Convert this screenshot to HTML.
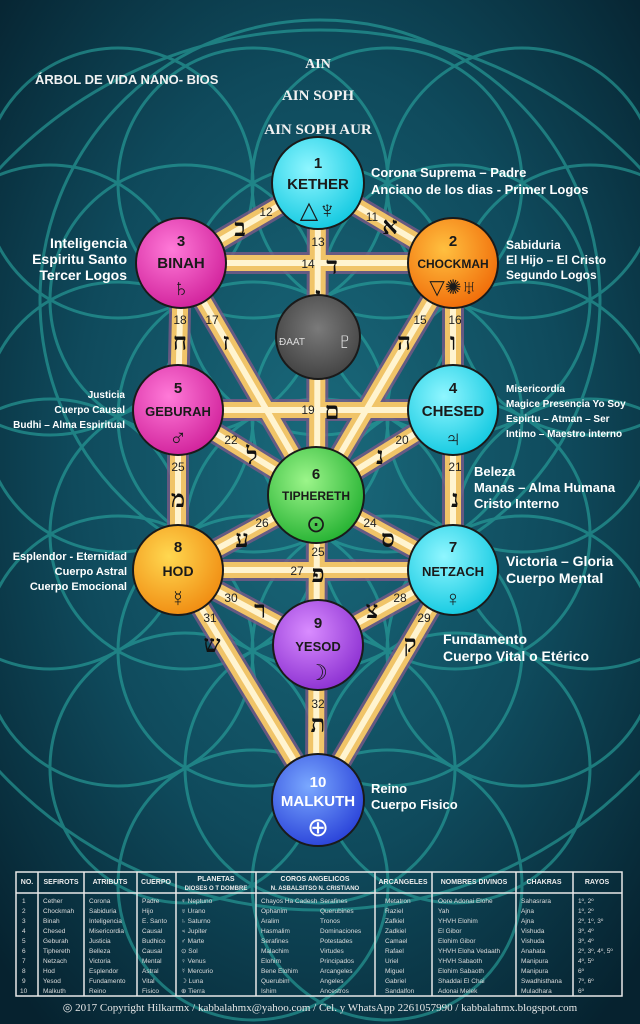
<!DOCTYPE html>
<html><head><meta charset="utf-8">
<style>
html,body{margin:0;padding:0;background:#072a38;}
svg{display:block}
text{font-family:"Liberation Sans",sans-serif;}
text.serif{font-family:"Liberation Serif",serif;}
</style></head>
<body>
<svg width="640" height="1024" viewBox="0 0 640 1024" xmlns="http://www.w3.org/2000/svg">
<defs>
<radialGradient id="bg" cx="50%" cy="45%" r="70%">
<stop offset="0" stop-color="#1a6a7c"/><stop offset="0.55" stop-color="#0f4a5c"/><stop offset="1" stop-color="#06222f"/>
</radialGradient>
<radialGradient id="gK" cx="40%" cy="35%" r="70%"><stop offset="0" stop-color="#8ff6ff"/><stop offset="1" stop-color="#10c8e0"/></radialGradient>
<radialGradient id="gB" cx="40%" cy="35%" r="70%"><stop offset="0" stop-color="#ff7ad8"/><stop offset="1" stop-color="#d0209a"/></radialGradient>
<radialGradient id="gC" cx="40%" cy="35%" r="70%"><stop offset="0" stop-color="#ffc040"/><stop offset="1" stop-color="#f06a08"/></radialGradient>
<radialGradient id="gT" cx="40%" cy="35%" r="70%"><stop offset="0" stop-color="#9cf58a"/><stop offset="1" stop-color="#22b030"/></radialGradient>
<radialGradient id="gH" cx="40%" cy="35%" r="70%"><stop offset="0" stop-color="#ffd850"/><stop offset="1" stop-color="#f08a10"/></radialGradient>
<radialGradient id="gY" cx="40%" cy="35%" r="70%"><stop offset="0" stop-color="#d98cff"/><stop offset="1" stop-color="#8a2ed0"/></radialGradient>
<radialGradient id="gM" cx="40%" cy="35%" r="70%"><stop offset="0" stop-color="#7aa8ff"/><stop offset="1" stop-color="#2840d8"/></radialGradient>
<radialGradient id="gD" cx="50%" cy="40%" r="70%"><stop offset="0" stop-color="#7a7a7a"/><stop offset="1" stop-color="#3a3a3a"/></radialGradient>
</defs>
<rect width="640" height="1024" fill="url(#bg)"/>
<g fill="none" stroke="#2aa7a0" stroke-width="3" opacity="0.6">
<circle cx="320" cy="300" r="135"/>
<circle cx="455" cy="300" r="135"/><circle cx="185" cy="300" r="135"/>
<circle cx="590" cy="300" r="135"/><circle cx="50" cy="300" r="135"/>
<circle cx="387" cy="183" r="135"/><circle cx="253" cy="183" r="135"/>
<circle cx="522" cy="183" r="135"/><circle cx="118" cy="183" r="135"/>
<circle cx="387" cy="417" r="135"/><circle cx="253" cy="417" r="135"/>
<circle cx="522" cy="417" r="135"/><circle cx="118" cy="417" r="135"/>
<circle cx="320" cy="534" r="135"/><circle cx="455" cy="534" r="135"/><circle cx="185" cy="534" r="135"/>
<circle cx="590" cy="534" r="135"/><circle cx="50" cy="534" r="135"/>
<circle cx="387" cy="651" r="135"/><circle cx="253" cy="651" r="135"/>
<circle cx="522" cy="651" r="135"/><circle cx="118" cy="651" r="135"/>
<circle cx="320" cy="768" r="135"/><circle cx="455" cy="768" r="135"/><circle cx="185" cy="768" r="135"/>
<circle cx="387" cy="885" r="135"/><circle cx="253" cy="885" r="135"/>
<circle cx="320" cy="300" r="280"/>
<circle cx="320" cy="470" r="440"/>
</g>
<g stroke-linecap="butt">
<g stroke="#7a5a88" stroke-width="22" opacity="0.8">
<line x1="318" y1="183" x2="453" y2="263"/><line x1="318" y1="183" x2="181" y2="263"/><line x1="318" y1="183" x2="316" y2="800"/>
<line x1="181" y1="263" x2="453" y2="263"/><line x1="453" y1="263" x2="453" y2="410"/><line x1="453" y1="263" x2="316" y2="495"/>
<line x1="181" y1="263" x2="178" y2="410"/><line x1="181" y1="263" x2="316" y2="495"/>
<line x1="178" y1="410" x2="453" y2="410"/><line x1="453" y1="410" x2="316" y2="495"/><line x1="178" y1="410" x2="316" y2="495"/>
<line x1="453" y1="410" x2="453" y2="570"/><line x1="178" y1="410" x2="178" y2="570"/>
<line x1="316" y1="495" x2="178" y2="570"/><line x1="316" y1="495" x2="453" y2="570"/>
<line x1="178" y1="570" x2="453" y2="570"/><line x1="178" y1="570" x2="318" y2="645"/><line x1="453" y1="570" x2="318" y2="645"/>
<line x1="178" y1="570" x2="318" y2="800"/><line x1="453" y1="570" x2="318" y2="800"/>
</g>
<g stroke="#f0c468" stroke-width="16">
<line x1="318" y1="183" x2="453" y2="263"/><line x1="318" y1="183" x2="181" y2="263"/><line x1="318" y1="183" x2="316" y2="800"/>
<line x1="181" y1="263" x2="453" y2="263"/><line x1="453" y1="263" x2="453" y2="410"/><line x1="453" y1="263" x2="316" y2="495"/>
<line x1="181" y1="263" x2="178" y2="410"/><line x1="181" y1="263" x2="316" y2="495"/>
<line x1="178" y1="410" x2="453" y2="410"/><line x1="453" y1="410" x2="316" y2="495"/><line x1="178" y1="410" x2="316" y2="495"/>
<line x1="453" y1="410" x2="453" y2="570"/><line x1="178" y1="410" x2="178" y2="570"/>
<line x1="316" y1="495" x2="178" y2="570"/><line x1="316" y1="495" x2="453" y2="570"/>
<line x1="178" y1="570" x2="453" y2="570"/><line x1="178" y1="570" x2="318" y2="645"/><line x1="453" y1="570" x2="318" y2="645"/>
<line x1="178" y1="570" x2="318" y2="800"/><line x1="453" y1="570" x2="318" y2="800"/>
</g>
<g stroke="#fff4d0" stroke-width="6">
<line x1="318" y1="183" x2="453" y2="263"/><line x1="318" y1="183" x2="181" y2="263"/><line x1="318" y1="183" x2="316" y2="800"/>
<line x1="181" y1="263" x2="453" y2="263"/><line x1="453" y1="263" x2="453" y2="410"/><line x1="453" y1="263" x2="316" y2="495"/>
<line x1="181" y1="263" x2="178" y2="410"/><line x1="181" y1="263" x2="316" y2="495"/>
<line x1="178" y1="410" x2="453" y2="410"/><line x1="453" y1="410" x2="316" y2="495"/><line x1="178" y1="410" x2="316" y2="495"/>
<line x1="453" y1="410" x2="453" y2="570"/><line x1="178" y1="410" x2="178" y2="570"/>
<line x1="316" y1="495" x2="178" y2="570"/><line x1="316" y1="495" x2="453" y2="570"/>
<line x1="178" y1="570" x2="453" y2="570"/><line x1="178" y1="570" x2="318" y2="645"/><line x1="453" y1="570" x2="318" y2="645"/>
<line x1="178" y1="570" x2="318" y2="800"/><line x1="453" y1="570" x2="318" y2="800"/>
</g>
</g>
<g font-size="12" fill="#222" text-anchor="middle">
<text x="266" y="216">12</text><text x="372" y="221">11</text><text x="318" y="246">13</text><text x="308" y="268">14</text>
<text x="180" y="324">18</text><text x="212" y="324">17</text><text x="420" y="324">15</text><text x="455" y="324">16</text>
<text x="308" y="414">19</text><text x="231" y="444">22</text><text x="402" y="444">20</text><text x="178" y="471">25</text><text x="455" y="471">21</text>
<text x="262" y="527">26</text><text x="370" y="527">24</text><text x="318" y="556">25</text><text x="297" y="575">27</text>
<text x="231" y="602">30</text><text x="400" y="602">28</text><text x="210" y="622">31</text><text x="424" y="622">29</text><text x="318" y="708">32</text>
</g>
<g font-size="24" fill="#111" font-weight="bold" text-anchor="middle">
<text class="serif" x="240" y="236">ב</text><text class="serif" x="390" y="234">א</text><text class="serif" x="332" y="274">ד</text><text class="serif" x="318" y="304">ג</text>
<text class="serif" x="180" y="350">ח</text><text class="serif" x="226" y="350">ז</text><text class="serif" x="404" y="350">ה</text><text class="serif" x="453" y="350">ו</text>
<text class="serif" x="332" y="419">ם</text><text class="serif" x="252" y="464">ל</text><text class="serif" x="380" y="464">נ</text><text class="serif" x="178" y="507">מ</text><text class="serif" x="455" y="507">נ</text>
<text class="serif" x="242" y="547">ע</text><text class="serif" x="388" y="547">ס</text><text class="serif" x="318" y="582">פ</text>
<text class="serif" x="260" y="618">ר</text><text class="serif" x="372" y="618">צ</text><text class="serif" x="212" y="652">ש</text><text class="serif" x="410" y="652">ק</text><text class="serif" x="318" y="732">ת</text>
</g>
<g stroke="#1a1a1a" stroke-width="2">
<circle cx="318" cy="183" r="46" fill="url(#gK)"/>
<circle cx="181" cy="263" r="45" fill="url(#gB)"/>
<circle cx="453" cy="263" r="45" fill="url(#gC)"/>
<circle cx="318" cy="337" r="42" fill="url(#gD)"/>
<circle cx="178" cy="410" r="45" fill="url(#gB)"/>
<circle cx="453" cy="410" r="45" fill="url(#gK)"/>
<circle cx="316" cy="495" r="48" fill="url(#gT)"/>
<circle cx="178" cy="570" r="45" fill="url(#gH)"/>
<circle cx="453" cy="570" r="45" fill="url(#gK)"/>
<circle cx="318" cy="645" r="45" fill="url(#gY)"/>
<circle cx="318" cy="800" r="46" fill="url(#gM)"/>
</g>
<g font-weight="bold" fill="#1a1a1a" text-anchor="middle">
<text x="318" y="168" font-size="15">1</text><text x="318" y="189" font-size="15">KETHER</text>
<text x="318" y="218" font-size="24" font-weight="normal">△♆</text>
<text x="181" y="246" font-size="15">3</text><text x="181" y="268" font-size="15">BINAH</text><text x="181" y="296" font-size="24" font-weight="normal">♄</text>
<text x="453" y="246" font-size="15">2</text><text x="453" y="268" font-size="12">CHOCKMAH</text><text x="453" y="294" font-size="20" font-weight="normal">▽✺♅</text>
<text x="178" y="393" font-size="15">5</text><text x="178" y="416" font-size="13">GEBURAH</text><text x="178" y="446" font-size="24" font-weight="normal">♂</text>
<text x="453" y="393" font-size="15">4</text><text x="453" y="416" font-size="15">CHESED</text><text x="453" y="446" font-size="22" font-weight="normal">♃</text>
<text x="316" y="479" font-size="15">6</text><text x="316" y="500" font-size="12">TIPHERETH</text><text x="316" y="532" font-size="24" font-weight="normal">⊙</text>
<text x="178" y="552" font-size="15">8</text><text x="178" y="576" font-size="14">HOD</text><text x="178" y="606" font-size="22" font-weight="normal">☿</text>
<text x="453" y="552" font-size="15">7</text><text x="453" y="576" font-size="13">NETZACH</text><text x="453" y="606" font-size="22" font-weight="normal">♀</text>
<text x="318" y="628" font-size="15">9</text><text x="318" y="651" font-size="13">YESOD</text><text x="318" y="680" font-size="22" font-weight="normal">☽</text>
</g>
<g fill="#fff" font-weight="bold" text-anchor="middle">
<text x="318" y="787" font-size="15">10</text><text x="318" y="806" font-size="15">MALKUTH</text>
<text x="318" y="836" font-size="26" font-weight="normal">⊕</text>
</g>
<g fill="#ddd" text-anchor="middle"><text x="292" y="345" font-size="10">ÐAAT</text><text x="345" y="349" font-size="24">♇</text></g>
<g fill="#f2f2f2" font-weight="bold">
<text x="35" y="84" font-size="13">ÁRBOL DE VIDA NANO- BIOS</text>
<text class="serif" x="318" y="68" text-anchor="middle" font-size="14">AIN</text>
<text class="serif" x="318" y="100" text-anchor="middle" font-size="15">AIN SOPH</text>
<text class="serif" x="318" y="134" text-anchor="middle" font-size="15">AIN SOPH AUR</text>
</g>
<g fill="#fff" font-weight="bold" font-size="13">
<text x="371" y="177">Corona Suprema – Padre</text><text x="371" y="194">Anciano de los dias - Primer Logos</text>
<text x="506" y="249" font-size="12">Sabiduria</text><text x="506" y="264" font-size="12">El Hijo – El Cristo</text><text x="506" y="279" font-size="12">Segundo Logos</text>
<g text-anchor="end" font-size="14"><text x="127" y="248">Inteligencia</text><text x="127" y="264">Espiritu Santo</text><text x="127" y="280">Tercer Logos</text></g>
<g text-anchor="end" font-size="10"><text x="125" y="398">Justicia</text><text x="125" y="413">Cuerpo Causal</text><text x="125" y="428">Budhi – Alma Espiritual</text></g>
<g font-size="10"><text x="506" y="392">Misericordia</text><text x="506" y="407">Magice Presencia Yo Soy</text><text x="506" y="422">Espirtu – Atman – Ser</text><text x="506" y="437">Intimo – Maestro interno</text></g>
<text x="474" y="476">Beleza</text><text x="474" y="492">Manas – Alma Humana</text><text x="474" y="508">Cristo Interno</text>
<g text-anchor="end" font-size="11"><text x="127" y="560">Esplendor  - Eternidad</text><text x="127" y="575">Cuerpo Astral</text><text x="127" y="590">Cuerpo Emocional</text></g>
<g font-size="14"><text x="506" y="566">Victoria – Gloria</text><text x="506" y="583">Cuerpo Mental</text></g>
<g font-size="14"><text x="443" y="644">Fundamento</text><text x="443" y="661">Cuerpo Vital o Etérico</text></g>
<text x="371" y="793">Reino</text><text x="371" y="809">Cuerpo Fisico</text>
</g>
<g fill="none" stroke="#e8e8e8" stroke-width="1.5">
<rect x="16" y="872" width="606" height="124"/>
<line x1="16" y1="893" x2="622" y2="893"/>
<line x1="38" y1="872" x2="38" y2="996"/><line x1="84" y1="872" x2="84" y2="996"/><line x1="137" y1="872" x2="137" y2="996"/>
<line x1="176" y1="872" x2="176" y2="996"/><line x1="256" y1="872" x2="256" y2="996"/><line x1="375" y1="872" x2="375" y2="996"/>
<line x1="432" y1="872" x2="432" y2="996"/><line x1="516" y1="872" x2="516" y2="996"/><line x1="573" y1="872" x2="573" y2="996"/>
</g>
<g fill="#eee" font-size="7" font-weight="bold" text-anchor="middle">
<text x="27" y="884">NO.</text><text x="61" y="884">SEFIROTS</text><text x="110" y="884">ATRIBUTS</text><text x="156" y="884">CUERPO</text>
<text x="216" y="881">PLANETAS</text><text x="216" y="890" font-size="6">DIOSES O T DOMBRE</text>
<text x="315" y="881">COROS ANGELICOS</text><text x="315" y="890" font-size="6">N. ASBALSITSO  N. CRISTIANO</text>
<text x="403" y="884">ARCANGELES</text><text x="474" y="884">NOMBRES DIVINOS</text><text x="544" y="884">CHAKRAS</text><text x="597" y="884">RAYOS</text>
</g>
<g fill="#ddd" font-size="6.5">
<text x="22" y="903">1</text><text x="22" y="913">2</text><text x="22" y="923">3</text><text x="22" y="933">4</text><text x="22" y="943">5</text><text x="22" y="953">6</text><text x="22" y="963">7</text><text x="22" y="973">8</text><text x="22" y="983">9</text><text x="20" y="993">10</text>
<text x="43" y="903">Cether</text><text x="43" y="913">Chockmah</text><text x="43" y="923">Binah</text><text x="43" y="933">Chesed</text><text x="43" y="943">Geburah</text><text x="43" y="953">Tiphereth</text><text x="43" y="963">Netzach</text><text x="43" y="973">Hod</text><text x="43" y="983">Yesod</text><text x="43" y="993">Malkuth</text>
<text x="89" y="903">Corona</text><text x="89" y="913">Sabiduria</text><text x="89" y="923">Inteligencia</text><text x="89" y="933">Misericordia</text><text x="89" y="943">Justicia</text><text x="89" y="953">Belleza</text><text x="89" y="963">Victoria</text><text x="89" y="973">Esplendor</text><text x="89" y="983">Fundamento</text><text x="89" y="993">Reino</text>
<text x="142" y="903">Padre</text><text x="142" y="913">Hijo</text><text x="142" y="923">E. Santo</text><text x="142" y="933">Causal</text><text x="142" y="943">Budhico</text><text x="142" y="953">Causal</text><text x="142" y="963">Mental</text><text x="142" y="973">Astral</text><text x="142" y="983">Vital</text><text x="142" y="993">Fisico</text>
<text x="181" y="903">♆ Neptuno</text><text x="181" y="913">♅ Urano</text><text x="181" y="923">♄ Saturno</text><text x="181" y="933">♃ Jupiter</text><text x="181" y="943">♂ Marte</text><text x="181" y="953">⊙ Sol</text><text x="181" y="963">♀ Venus</text><text x="181" y="973">☿ Mercurio</text><text x="181" y="983">☽ Luna</text><text x="181" y="993">⊕ Tierra</text>
<text x="261" y="903">Chayos Ha Cadesh</text><text x="261" y="913">Ophanim</text><text x="261" y="923">Aralim</text><text x="261" y="933">Hasmalim</text><text x="261" y="943">Serafines</text><text x="261" y="953">Malachim</text><text x="261" y="963">Elohim</text><text x="261" y="973">Bene Elohim</text><text x="261" y="983">Querubim</text><text x="261" y="993">Ishim</text>
<text x="320" y="903">Serafines</text><text x="320" y="913">Querubines</text><text x="320" y="923">Tronos</text><text x="320" y="933">Dominaciones</text><text x="320" y="943">Potestades</text><text x="320" y="953">Virtudes</text><text x="320" y="963">Principados</text><text x="320" y="973">Arcangeles</text><text x="320" y="983">Angeles</text><text x="320" y="993">Ancestros</text>
<text x="385" y="903">Metatron</text><text x="385" y="913">Raziel</text><text x="385" y="923">Zafkiel</text><text x="385" y="933">Zadkiel</text><text x="385" y="943">Camael</text><text x="385" y="953">Rafael</text><text x="385" y="963">Uriel</text><text x="385" y="973">Miguel</text><text x="385" y="983">Gabriel</text><text x="385" y="993">Sandalfon</text>
<text x="438" y="903">Oore Adonai Elohe</text><text x="438" y="913">Yah</text><text x="438" y="923">YHVH Elohim</text><text x="438" y="933">El Gibor</text><text x="438" y="943">Elohim Gibor</text><text x="438" y="953">YHVH Eloha Vedaath</text><text x="438" y="963">YHVH Sabaoth</text><text x="438" y="973">Elohim Sabaoth</text><text x="438" y="983">Shaddai El Chai</text><text x="438" y="993">Adonai Melek</text>
<text x="521" y="903">Sahasrara</text><text x="521" y="913">Ajna</text><text x="521" y="923">Ajna</text><text x="521" y="933">Vishuda</text><text x="521" y="943">Vishuda</text><text x="521" y="953">Anahata</text><text x="521" y="963">Manipura</text><text x="521" y="973">Manipura</text><text x="521" y="983">Swadhisthana</text><text x="521" y="993">Muladhara</text>
<text x="578" y="903">1º, 2º</text><text x="578" y="913">1º, 2º</text><text x="578" y="923">2º, 1º, 3º</text><text x="578" y="933">3º, 4º</text><text x="578" y="943">3º, 4º</text><text x="578" y="953">2º, 3º, 4º, 5º</text><text x="578" y="963">4º, 5º</text><text x="578" y="973">6º</text><text x="578" y="983">7º, 6º</text><text x="578" y="993">6º</text>
</g>
<text class="serif" x="320" y="1011" fill="#e8e8e8" font-size="11" text-anchor="middle">◎  2017 Copyright Hilkarmx / kabbalahmx@yahoo.com / Cel. y WhatsApp 2261057990 / kabbalahmx.blogspot.com</text>
</svg>
</body></html>
